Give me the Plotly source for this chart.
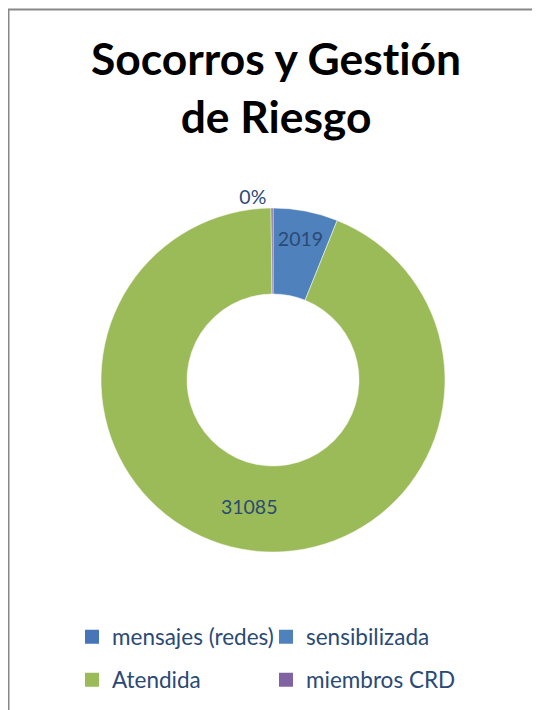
import plotly.graph_objects as go

labels = ["mensajes (redes)", "sensibilizada", "Atendida", "miembros CRD"]
values = [0, 2019, 31085, 60]
colors = ["#4676B8", "#4F81BD", "#9BBB59", "#8064A2"]
text_templates = ["", "%{value:d}", "%{value:d}", "%{percent:.0%}"]
text_positions = ["inside", "inside", "inside", "outside"]
legend_rows = ["legend", "legend", "legend2", "legend2"]

W, H = 540, 710
# the page body adds an 8px offset, so figure coordinates are shifted by it
cx, cy, r = 265, 372, 172
TEXT_COLOR = "#2A4A75"

fig = go.Figure()
fig.add_trace(go.Pie(
    labels=labels,
    values=values,
    hole=0.5,
    sort=False,
    direction="clockwise",
    rotation=0,
    marker=dict(colors=colors, line=dict(color="white", width=0.5)),
    texttemplate=text_templates,
    textposition=text_positions,
    insidetextorientation="horizontal",
    textfont=dict(family="Lato", size=19.5, color=TEXT_COLOR),
    domain=dict(x=[(cx - r) / W, (cx + r) / W], y=[1 - (cy + r) / H, 1 - (cy - r) / H]),
    showlegend=False,
    hoverinfo="label+value+percent",
))

# legend entries (one per category), split over two rows
for lab, col, lg in zip(labels, colors, legend_rows):
    fig.add_trace(go.Scatter(
        x=[None], y=[None], mode="markers", name=lab,
        marker=dict(symbol="square", size=14, color=col),
        legend=lg, showlegend=True,
    ))

legend_common = dict(
    orientation="h",
    x=64 / W, xanchor="left",
    yanchor="middle",
    entrywidth=149, entrywidthmode="pixels",
    font=dict(family="Lato", size=22.5, color=TEXT_COLOR),
    itemclick=False, itemdoubleclick=False,
    bgcolor="rgba(0,0,0,0)",
)

fig.update_layout(
    width=W, height=H,
    margin=dict(l=0, r=0, t=0, b=0, autoexpand=False),
    paper_bgcolor="white",
    plot_bgcolor="white",
    xaxis=dict(visible=False),
    yaxis=dict(visible=False),
    annotations=[dict(
        text="<b>Socorros y Gest\u200ción<br>de Riesgo</b>",
        x=268 / W, y=1 - 21 / H, xref="paper", yref="paper",
        xanchor="center", yanchor="top", showarrow=False,
        font=dict(family="Lato", size=44.4, color="black"),
    )],
    legend=dict(legend_common, y=1 - 629 / H),
    legend2=dict(legend_common, y=1 - 672 / H),
    shapes=[dict(
        type="rect", xref="paper", yref="paper",
        x0=0.5 / W, x1=1.05, y0=-0.05, y1=1 - 1.5 / H,
        line=dict(color="#888888", width=2),
    )],
)

fig.write_html("out.html")
